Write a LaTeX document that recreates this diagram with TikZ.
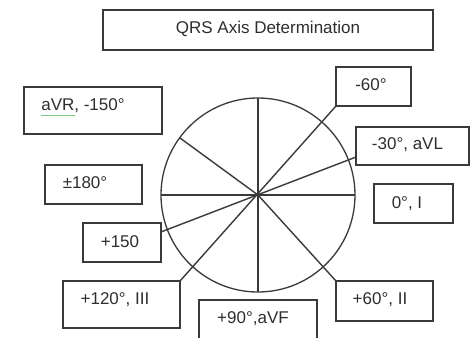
\documentclass[tikz,border=0pt]{standalone}
\usepackage{fontspec}
\setmainfont{Liberation Sans}
\usetikzlibrary{calc}
\definecolor{ink}{HTML}{3A3A3A}
\definecolor{txtc}{HTML}{2E2E2E}
\tikzset{
  box/.style={draw=ink, line width=1.4pt, rectangle, inner sep=0pt, outer sep=0pt, fill=white},
  txt/.style={text=txtc, inner sep=0pt, font=\fontsize{17}{20}\selectfont},
  spoke/.style={draw=ink, line width=1.4pt},
}
\begin{document}
\begin{tikzpicture}[x=1pt,y=-1pt]
\useasboundingbox (0,0) rectangle (475,338);
\clip (0,0) rectangle (475,338);
\fill[white] (0,0) rectangle (475,338);
% circle
\node[draw=ink, line width=1.3pt, circle, minimum size=194pt, inner sep=0pt, outer sep=0pt] (c) at (258,195) {};
% boxes
\node[box, minimum width=330pt, minimum height=40pt] (title) at (268,30) {};
\node[txt] (titlet) at (268,29) {QRS Axis Determination};
\node[box, minimum width=75pt, minimum height=39pt] (m60) at (373.5,86.5) {};
\node[txt] (m60t) at (371,85) {-60°};
\node[box, minimum width=113pt, minimum height=38pt] (avl) at (412.5,146) {};
\node[txt] (avlt) at (407.5,145) {-30°, aVL};
\node[box, minimum width=79pt, minimum height=39pt] (zero) at (413.5,203.5) {};
\node[txt] (zerot) at (407,203.5) {0°, I};
\node[box, minimum width=138pt, minimum height=47pt] (avr) at (93,110.5) {};
\node[txt] (avrt) at (83,106) {aVR, -150°};
\node[box, minimum width=97pt, minimum height=39pt] (pm) at (93.5,184.5) {};
\node[txt] (pmt) at (85,183) {±180°};
\node[box, minimum width=78pt, minimum height=39pt] (p150) at (122,242.5) {};
\node[txt] (p150t) at (120,242) {+150};
\node[box, minimum width=117pt, minimum height=47pt] (p120) at (121.5,304.5) {};
\node[txt] (p120t) at (115,300) {+120°, III};
\node[box, minimum width=118pt, minimum height=50pt] (p90) at (258,325) {};
\node[txt] (p90t) at (253,319) {+90°,aVF};
\node[box, minimum width=97pt, minimum height=40pt] (p60) at (384.5,301) {};
\node[txt] (p60t) at (380,300) {+60°, II};
% spell-check underline
\draw[green!55!black, opacity=0.5, line width=0.8pt] (41,115.5) -- (75,115.5);
% spokes
\coordinate (avlpt) at ($(avl.south west)!0.21!(avl.north west)$);
\coordinate (p150pt) at ($(p150.north east)!0.23!(p150.south east)$);
\coordinate (avrpt) at (180,138);
\draw[spoke] (c.north) -- (c.south);
\draw[spoke] (c.west) -- (c.east);
\draw[spoke] (m60.south west) -- (p120.north east);
\draw[spoke] (avlpt) -- (p150pt);
\draw[spoke] (c.center) -- (avrpt);
\draw[spoke] (c.center) -- (p60.north west);
\end{tikzpicture}
\end{document}
